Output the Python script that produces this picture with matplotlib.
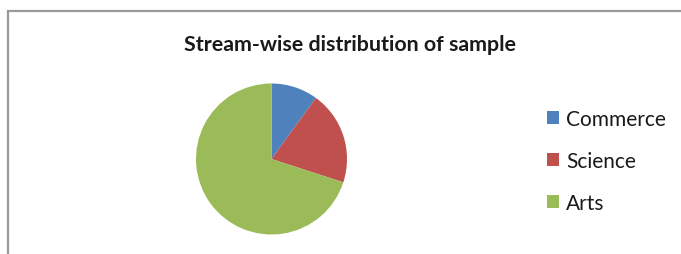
import matplotlib
matplotlib.use("Agg")
import matplotlib.pyplot as plt
from matplotlib.patches import Rectangle

title = "Stream-wise distribution of sample"
categories = ["Commerce", "Science", "Arts"]
values = [10, 20, 70]
colors = ["#4F81BD", "#C0504D", "#9BBB59"]

plt.rcParams['font.family'] = ['Lato', 'DejaVu Sans']

W, H = 681, 255
fig = plt.figure(figsize=(W / 100, H / 100), dpi=100)
fig.patch.set_facecolor("white")

# outer chart frame (cut off at right and bottom)
fig.add_artist(Rectangle((7.5 / W, -0.1), 1.2, 1.1 - 12 / H, transform=fig.transFigure,
                         fill=False, edgecolor="#9a9a9a", linewidth=1.6))

fig.text(350 / W, 1 - 45 / H, title, ha="center", va="center",
         fontsize=15.4, fontweight="bold", color="#1a1a1a")

cx, cy, r = 271.5, 160, 75.5
ax = fig.add_axes([(cx - r) / W, 1 - (cy + r) / H, 2 * r / W, 2 * r / H])
wedges, _ = ax.pie(values, colors=colors, startangle=90, counterclock=False,
                   wedgeprops=dict(linewidth=0))
ax.set_aspect("equal")
ax.set_xlim(-1, 1)
ax.set_ylim(-1, 1)

leg = fig.legend(wedges, categories, loc="center left",
                 bbox_to_anchor=(528 / W, 1 - 162 / H), frameon=False,
                 fontsize=15, handlelength=0.58, handleheight=0.58,
                 handletextpad=0.35, labelspacing=1.04)
for t in leg.get_texts():
    t.set_color("#1a1a1a")

fig.savefig("out.png", dpi=100, facecolor="white")
